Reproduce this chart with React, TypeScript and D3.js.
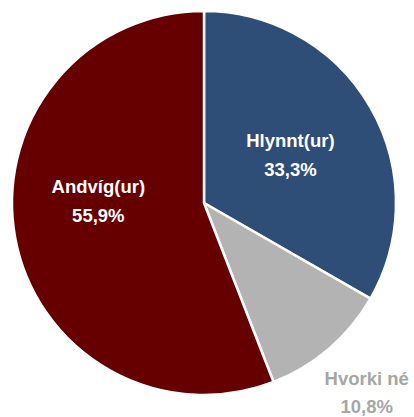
import * as d3 from 'd3';

const categories = ['Hlynnt(ur)', 'Hvorki né', 'Andvíg(ur)'];
const values = [33.3, 10.8, 55.9];
const colors = ['#2e4e77', '#b3b3b3', '#660000'];
const labelColors = ['#ffffff', '#a6a6a6', '#ffffff'];

const width = 414;
const height = 417;
const cx = 204;
const cy = 203;
const radius = 192;

const fmt = (v: number) => v.toFixed(1).replace('.', ',') + '%';

export default function App() {
  const pie = d3.pie<number>().sort(null).value((d) => d);
  const arcs = pie(values);
  const arc = d3.arc<d3.PieArcDatum<number>>().innerRadius(0).outerRadius(radius);

  // label radius per slice (gray one sits outside), plus a small vertical nudge
  const labelR = [0.52, 1.3, 0.56];
  const nudgeY = [-2, -4, -26];

  return (
    <svg
      width={width}
      height={height}
      style={{ position: 'absolute', left: 0, top: 0 }}
      fontFamily="'Liberation Sans', Arial, sans-serif"
    >
      <g transform={`translate(${cx},${cy})`}>
        {arcs.map((a, i) => (
          <path key={i} d={arc(a) ?? ''} fill={colors[i]} stroke="#fff" strokeWidth={2.5} strokeLinejoin="round" />
        ))}
        {arcs.map((a, i) => {
          const mid = (a.startAngle + a.endAngle) / 2;
          const r = radius * labelR[i];
          const x = r * Math.sin(mid);
          const y = -r * Math.cos(mid) + nudgeY[i];
          return (
            <text
              key={i}
              x={x}
              y={y}
              textAnchor="middle"
              fill={labelColors[i]}
              fontWeight="bold"
              fontSize={18.5}
            >
              <tspan x={x} dy="-0.2em">{categories[i]}</tspan>
              <tspan x={x} dy="1.55em">{fmt(values[i])}</tspan>
            </text>
          );
        })}
      </g>
    </svg>
  );
}
